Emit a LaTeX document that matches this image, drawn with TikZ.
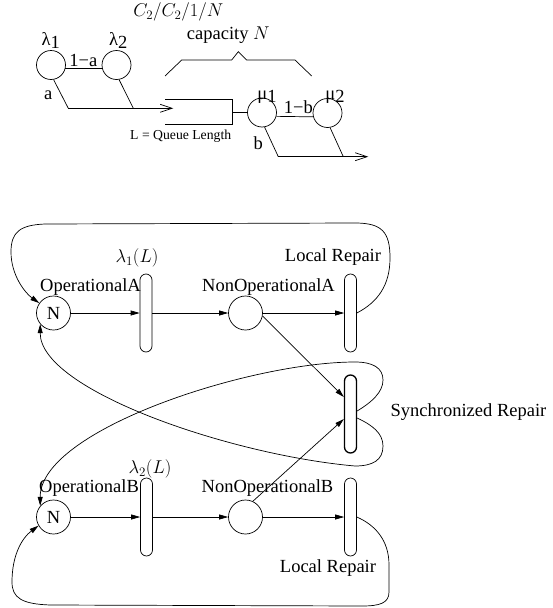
\RequirePackage{fix-cm}
\documentclass[tikz,border=0pt]{standalone}
\usepackage{fontspec}
\setmainfont{Liberation Serif}
\usetikzlibrary{arrows.meta}

\tikzset{
  every node/.style={font=\fontsize{18.5}{22}\selectfont},
  place/.style={circle, draw, minimum size=34pt, inner sep=0pt},
  server/.style={circle, draw, minimum size=29pt, inner sep=0pt},
  transbar/.style={draw, rounded corners=6pt, minimum width=12pt, minimum height=78pt, inner sep=0pt},
  lbl/.style={inner sep=0pt},
  arr/.style={-{Triangle[length=9pt,width=5pt]}},
  flowarr/.style={-{Straight Barb[length=12pt,width=8pt]}}
}

\begin{document}
\begin{tikzpicture}[x=1pt, y=-1pt, line width=0.7pt]
  \useasboundingbox (0,0) rectangle (552,608);

  % Queue sketch
  \node[server] (l1) at (51,65) {};
  \node[server] (l2) at (116.5,65) {};
  \node[server] (m1) at (262,112.5) {};
  \node[server] (m2) at (327.5,113) {};

  \node[lbl] (l1lab) at (50.7,40.7) {λ\raisebox{-3pt}{1}};
  \node[lbl] (l2lab) at (118.3,40.7) {λ\raisebox{-3pt}{2}};
  \node[lbl] (m1lab) at (267,97) {μ\raisebox{-3pt}{1}};
  \node[lbl] (m2lab) at (335,97) {μ\raisebox{-3pt}{2}};
  \node[lbl] (pa) at (83.3,60) {1−a};
  \node[lbl] (qa) at (48.3,95.7) {a};
  \node[lbl] (pb) at (298.3,106.7) {1−b};
  \node[lbl] (qb) at (258.3,143.3) {b};
  \node[lbl, font=\fontsize{13.7}{16}\selectfont] (qlen) at (180.7,136.7) {L = Queue Length};
  \node[lbl] (cap) at (228.3,35) {capacity $N$};
  \node[lbl] (kend) at (178.3,11.7) {$C_2/C_2/1/N$};

  \coordinate (q1) at (165,99);
  \coordinate (q2) at (232,99);
  \coordinate (q3) at (232,124.3);
  \coordinate (q4) at (165,124.3);
  \coordinate (a1) at (68.3,108.3);
  \coordinate (a2) at (133.3,108.3);
  \coordinate (aend) at (173.3,108.3);
  \coordinate (d1) at (278.3,156.7);
  \coordinate (d2) at (343.3,156.7);
  \coordinate (dend) at (368.3,156.7);

  \draw (l1.-13) -- (l2.-167);
  \draw (m1.-15) -- (m2.-165);
  \draw (l1.-80) -- (a1);
  \draw (l2.-80) -- (a2);
  \draw[flowarr] (a1) -- (aend);
  \draw (q1) -- (q2) -- (q3) -- (q4);
  \draw (q2 |- m1) -- (m1.west);
  \draw (m1.-80) -- (d1);
  \draw (m2.-80) -- (d2);
  \draw[flowarr] (d1) -- (dend);
  \draw (165,76) -- (181.7,60) -- (231.7,60) -- (238.3,51.7) -- (246.7,60) -- (295,60) -- (311.7,76);

  % Nodes
  \node[place] (opA) at (53.5,313) {N};
  \node[transbar] (t1) at (146,313) {};
  \node[place] (nopA) at (245.5,313) {};
  \node[transbar] (lrA) at (350.5,313) {};
  \node[transbar, line width=1.3pt] (sync) at (350.5,414) {};
  \node[place] (opB) at (53.5,517) {N};
  \node[transbar] (t2) at (146.5,517) {};
  \node[place] (nopB) at (245.5,517) {};
  \node[transbar] (lrB) at (350.5,517) {};

  % Labels
  \node[lbl] (lamA) at (137,258) {$\lambda_1(L)$};
  \node[lbl] (opAlab) at (90.5,287) {OperationalA};
  \node[lbl] (nopAlab) at (268.5,287) {NonOperationalA};
  \node[lbl] (lrAlab) at (333,257) {Local Repair};
  \node[lbl] (lamB) at (150,469) {$\lambda_2(L)$};
  \node[lbl] (opBlab) at (89,488) {OperationalB};
  \node[lbl] (nopBlab) at (267.5,488) {NonOperationalB};
  \node[lbl] (lrBlab) at (328,568) {Local Repair};
  \node[lbl] (synclab) at (468.5,412) {Synchronized Repair};

  % Arrows
  \draw[arr] (opA) -- (t1);
  \draw[arr] (t1) -- (nopA);
  \draw[arr] (nopA) -- (lrA);
  \draw[arr] (opB) -- (t2);
  \draw[arr] (t2) -- (nopB);
  \draw[arr] (nopB) -- (lrB);
  \draw[arr] (nopA.-10) -- ([yshift=17pt]sync.west);
  \draw[arr] (nopB.65) -- ([yshift=-5pt]sync.west);

  % Repair loops
  \draw[arr] (lrA.east) .. controls (378,302) and (390,285) .. (390,258)
    .. controls (390,232) and (382,223) .. (355,223) -- (45,224)
    .. controls (20,225) and (11,232) .. (11,252)
    .. controls (11,275) and (25,293) .. (opA.145);
  \draw[arr] (lrB.east) .. controls (375,525) and (389,540) .. (389,565) -- (389,592)
    .. controls (389,603) and (380,606) .. (362,606) -- (50,605)
    .. controls (22,604) and (12,598) .. (12,582)
    .. controls (12,555) and (22,538) .. (opB.210);
  \draw[arr] ([yshift=3pt]sync.east) .. controls (372,402) and (383,392) .. (383,380)
    .. controls (383,368) and (373,362) .. (355,362)
    .. controls (250,362) and (40,430) .. (opB.140);
  \draw[arr] ([yshift=-4pt]sync.east) .. controls (372,425) and (383,433) .. (383,446)
    .. controls (383,460) and (373,466) .. (355,466)
    .. controls (230,455) and (40,390) .. (opA.220);
\end{tikzpicture}
\end{document}
